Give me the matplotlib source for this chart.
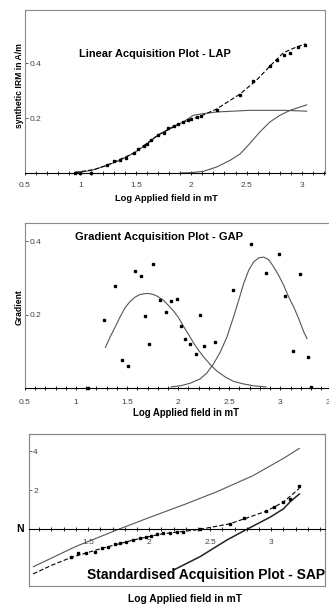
import matplotlib
matplotlib.use("Agg")
import matplotlib.pyplot as plt
from matplotlib.ticker import MultipleLocator
from matplotlib.patches import Rectangle

plt.rcParams['font.family'] = ['Liberation Sans', 'DejaVu Sans']

# ---- LAP data (log field, synthetic IRM A/m)
lap_x = [0.95, 1.0, 1.1, 1.24, 1.3, 1.36, 1.41, 1.48, 1.52, 1.57, 1.6, 1.64, 1.7,
         1.75, 1.79, 1.84, 1.88, 1.93, 1.97, 2.0, 2.05, 2.09, 2.23, 2.44, 2.56,
         2.71, 2.77, 2.84, 2.89, 2.96, 3.03]
lap_y = [0.0, 0.0, 0.0, 0.028, 0.042, 0.048, 0.054, 0.072, 0.087, 0.098, 0.105,
         0.12, 0.138, 0.146, 0.162, 0.171, 0.18, 0.186, 0.192, 0.195, 0.204, 0.206,
         0.23, 0.285, 0.333, 0.388, 0.41, 0.431, 0.435, 0.459, 0.467]
lap_c1_x = [0.95, 1.05, 1.12, 1.24, 1.35, 1.48, 1.6, 1.7, 1.82, 1.93, 2.019, 2.109,
            2.23, 2.38, 2.53, 2.83, 3.042]
lap_c1_y = [0.002, 0.006, 0.012, 0.028, 0.045, 0.072, 0.105, 0.138, 0.166, 0.186,
            0.21, 0.216, 0.222, 0.225, 0.228, 0.228, 0.225]
lap_c2_x = [1.9, 1.989, 2.109, 2.23, 2.35, 2.44, 2.53, 2.621, 2.711, 2.801, 2.892,
            2.982, 3.042]
lap_c2_y = [0.0, 0.001, 0.006, 0.022, 0.046, 0.069, 0.108, 0.15, 0.186, 0.21,
            0.228, 0.24, 0.248]
lap_sum_x = [0.95, 1.12, 1.24, 1.48, 1.7, 1.93, 2.08, 2.23, 2.44, 2.59, 2.71, 2.83,
             2.93, 3.03]
lap_sum_y = [0.002, 0.012, 0.028, 0.072, 0.138, 0.186, 0.206, 0.233, 0.287, 0.338,
             0.389, 0.437, 0.455, 0.47]

# ---- GAP data (log field, gradient)
gap_x = [1.12, 1.27, 1.38, 1.45, 1.51, 1.575, 1.634, 1.676, 1.71, 1.758, 1.82,
         1.88, 1.93, 1.99, 2.03, 2.07, 2.12, 2.17, 2.21, 2.25, 2.36, 2.54, 2.71,
         2.86, 2.99, 3.05, 3.12, 3.19, 3.27, 3.3]
gap_y = [0.0, 0.186, 0.277, 0.077, 0.059, 0.32, 0.305, 0.197, 0.121, 0.337, 0.241,
         0.206, 0.238, 0.244, 0.17, 0.135, 0.121, 0.093, 0.2, 0.115, 0.125, 0.268,
         0.393, 0.313, 0.365, 0.25, 0.102, 0.311, 0.085, 0.002]
gap_c1_x = [1.288, 1.333, 1.382, 1.431, 1.48, 1.529, 1.578, 1.627, 1.693, 1.745,
            1.791, 1.856, 1.905, 1.954, 2.003, 2.052, 2.101, 2.15, 2.199, 2.248,
            2.314, 2.379, 2.461, 2.542, 2.641, 2.739, 2.86]
gap_c1_y = [0.111, 0.139, 0.166, 0.194, 0.219, 0.236, 0.248, 0.255, 0.258, 0.256,
            0.251, 0.239, 0.225, 0.21, 0.192, 0.168, 0.146, 0.123, 0.103, 0.085,
            0.064, 0.046, 0.03, 0.018, 0.011, 0.006, 0.003]
gap_c2_x = [1.931, 2.02, 2.118, 2.216, 2.281, 2.346, 2.412, 2.477, 2.542, 2.592,
            2.641, 2.69, 2.739, 2.788, 2.837, 2.886, 2.935, 2.984, 3.033, 3.082,
            3.131, 3.18, 3.229, 3.261]
gap_c2_y = [0.003, 0.006, 0.013, 0.025, 0.041, 0.066, 0.098, 0.139, 0.194, 0.239,
            0.285, 0.321, 0.344, 0.355, 0.357, 0.35, 0.33, 0.307, 0.28, 0.248,
            0.221, 0.189, 0.153, 0.135]

# ---- SAP data (log field, N)
sap_x = [1.361, 1.42, 1.484, 1.557, 1.612, 1.667, 1.721, 1.762, 1.811, 1.866,
         1.926, 1.975, 2.014, 2.063, 2.117, 2.172, 2.227, 2.281, 2.418, 2.664,
         2.773, 2.96, 3.02, 3.095, 3.156, 3.23]
sap_y = [-1.40, -1.23, -1.20, -1.15, -0.97, -0.89, -0.77, -0.72, -0.63, -0.55,
         -0.46, -0.38, -0.32, -0.26, -0.21, -0.21, -0.15, -0.12, 0.0, 0.26, 0.56,
         0.95, 1.13, 1.42, 1.55, 2.22]
sap_c1_x = [1.052, 1.4, 1.749, 2.008, 2.3, 2.555, 2.85, 3.1, 3.23]
sap_c1_y = [-1.92, -0.88, 0.0, 0.62, 1.3, 1.93, 2.75, 3.64, 4.15]
sap_c2_x = [2.2, 2.418, 2.637, 2.8, 2.99, 3.1, 3.156, 3.23]
sap_c2_y = [-2.09, -1.4, -0.55, 0.0, 0.62, 1.05, 1.42, 1.81]
sap_sum_x = [1.05, 1.2, 1.36, 1.6, 1.87, 2.1, 2.4, 2.66, 2.96, 3.1, 3.23]
sap_sum_y = [-2.29, -1.85, -1.45, -1.0, -0.55, -0.24, -0.02, 0.28, 0.93, 1.4, 2.1]

W, H = 329, 606
fig = plt.figure(figsize=(W / 100, H / 100), dpi=100)

grey = '#555555'
frame = '#8a8a8a'


def axes_px(l, t, r, b):
    return fig.add_axes([l / W, 1 - b / H, (r - l) / W, (b - t) / H])


def style(ax, xpad):
    for s in ['top', 'left', 'right']:
        ax.spines[s].set_color(frame)
        ax.spines[s].set_linewidth(0.8)
    ax.spines['bottom'].set_color('black')
    ax.spines['bottom'].set_linewidth(0.8)
    ax.xaxis.set_minor_locator(MultipleLocator(0.1))
    ax.tick_params(axis='x', which='both', direction='inout', length=2.5,
                   width=0.6, labelsize=6, labelcolor='#444444', pad=xpad)
    ax.tick_params(axis='y', direction='in', length=2.5, width=0.6, pad=-3,
                   labelsize=6, labelcolor='#444444', color='#444444')
    for lab in ax.get_yticklabels():
        lab.set_ha('left')


# ---------------- LAP
ax1 = axes_px(25, 10, 325, 173)
ax1.plot(lap_c1_x, lap_c1_y, color=grey, lw=0.8)
ax1.plot(lap_c2_x, lap_c2_y, color=grey, lw=0.8)
ax1.plot(lap_sum_x, lap_sum_y, color='black', lw=0.8, dashes=(4, 2))
ax1.plot(lap_x, lap_y, 's', color='black', ms=2.0, clip_on=False)
ax1.set_xlim(0.5, 3.207)
ax1.set_ylim(0, 0.593)
ax1.set_xticks([0.5, 1, 1.5, 2, 2.5, 3])
ax1.set_xticklabels(['0.5', '1', '1.5', '2', '2.5', '3'])
ax1.set_yticks([0.2, 0.4])
ax1.set_yticklabels(['0.2', '0.4'])
style(ax1, 5.5)
ax1.text(0.433, 0.73, 'Linear Acquisition Plot - LAP', transform=ax1.transAxes,
         ha='center', va='center', fontsize=7.9, fontweight='bold')
fig.text(20 / W, 1 - 86 / H, 'synthetic IRM in A/m', rotation=90, ha='center',
         va='center', fontsize=6.2, fontweight='bold')
fig.text(166 / W, 1 - 199 / H, 'Log Applied field in mT', ha='center', va='center',
         fontsize=6.7, fontweight='bold')

# ---------------- GAP
ax2 = axes_px(25, 223, 336, 388)
ax2.plot(gap_c1_x, gap_c1_y, color=grey, lw=0.8)
ax2.plot(gap_c2_x, gap_c2_y, color=grey, lw=0.8)
ax2.plot(gap_x, gap_y, 's', color='black', ms=2.0, clip_on=False)
ax2.set_xlim(0.5, 3.545)
ax2.set_ylim(0, 0.45)
ax2.set_xticks([0.5, 1, 1.5, 2, 2.5, 3, 3.5])
ax2.set_xticklabels(['0.5', '1', '1.5', '2', '2.5', '3', '3.5'])
ax2.set_yticks([0.2, 0.4])
ax2.set_yticklabels(['0.2', '0.4'])
style(ax2, 6.5)
ax2.text(0.431, 0.915, 'Gradient Acquisition Plot - GAP', transform=ax2.transAxes,
         ha='center', va='center', fontsize=8.0, fontweight='bold')
fig.text(19 / W, 1 - 307 / H, 'Gradient', rotation=90, ha='center', va='center',
         fontsize=6.2, fontweight='bold')
fig.text(186 / W, 1 - 413 / H, 'Log Applied field in mT', ha='center', va='center',
         fontsize=6.9, fontweight='bold')

# ---------------- SAP
ax3 = axes_px(29, 434, 325, 586)
ax3.plot(sap_c1_x, sap_c1_y, color=grey, lw=0.8)
ax3.plot(sap_c2_x, sap_c2_y, color='#222222', lw=1.1)
ax3.plot(sap_sum_x, sap_sum_y, color='black', lw=0.8, dashes=(4, 2))
ax3.plot(sap_x, sap_y, 's', color='black', ms=1.8)
ax3.set_xlim(1.016, 3.44)
ax3.set_ylim(-2.91, 4.89)
ax3.set_xticks([1.5, 2, 2.5, 3])
ax3.set_xticklabels(['1.5', '2', '2.5', '3'])
ax3.set_yticks([2, 4])
ax3.set_yticklabels(['2', '4'])
style(ax3, 5.5)
ax3.spines['bottom'].set_position(('data', 0))
ax3.add_patch(Rectangle((0, 0), 1, 1, transform=ax3.transAxes, fill=False,
                        edgecolor=frame, lw=0.8, clip_on=False))
ax3.text(0.598, 0.075, 'Standardised Acquisition Plot - SAP', transform=ax3.transAxes,
         ha='center', va='center', fontsize=10, fontweight='bold')
fig.text(20 / W, 1 - 529 / H, 'N', ha='center', va='center', fontsize=7.5,
         fontweight='bold')
fig.text(185 / W, 1 - 599 / H, 'Log Applied field in mT', ha='center', va='center',
         fontsize=7.4, fontweight='bold')

fig.savefig('out.png', dpi=100)
